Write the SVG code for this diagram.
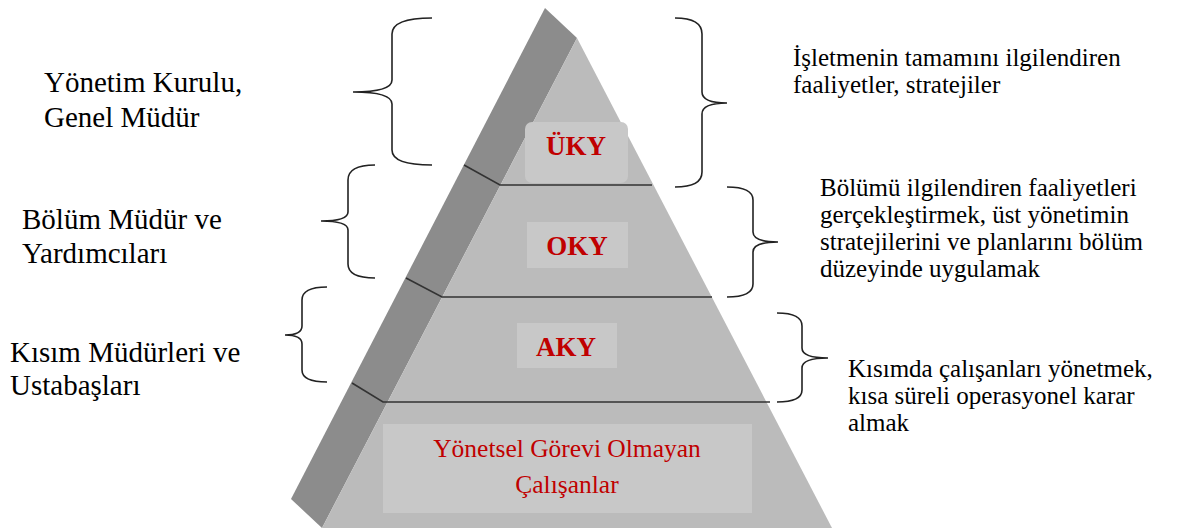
<svg xmlns="http://www.w3.org/2000/svg" width="1189" height="528" viewBox="0 0 1189 528">
<defs>
<style>
.brace{fill:none;stroke:#222;stroke-width:1.6}
.sep{fill:none;stroke:#333;stroke-width:1.6}
.box{fill:#c8c8c8}
.serif{font-family:'Liberation Serif','Times New Roman',serif}
</style>
</defs>
<rect width="1189" height="528" fill="#fff"/>
<g id="pyramid">
<polygon points="545,8 577,38 322,528 291,499" fill="#8c8c8c"/>
<polygon points="577,38 832,528 322,528" fill="#bbbbbb"/>
</g>
<g class="serif" fill="#c00000" text-anchor="middle">
<g id="level-uky">
<rect class="box" x="525" y="122" width="103" height="61" rx="7"/>
<text x="576" y="155" font-size="27" font-weight="bold">ÜKY</text>
</g>
<g id="level-oky">
<rect class="box" x="527" y="222" width="101" height="46"/>
<text x="577" y="255" font-size="27" font-weight="bold">OKY</text>
</g>
<g id="level-aky">
<rect class="box" x="517" y="323" width="100" height="45"/>
<text x="566" y="356" font-size="27" font-weight="bold">AKY</text>
</g>
<g id="level-employees">
<rect class="box" x="383" y="424" width="369" height="89"/>
<text x="567" y="457" font-size="25.5">Yönetsel Görevi Olmayan</text>
<text x="567" y="493" font-size="25.5">Çalışanlar</text>
</g>
</g>
<g id="connectors">
<path class="sep" d="M464,165 L500,185 L652,185"/>
<path class="sep" d="M406,278 L442,297 L712,297"/>
<path class="sep" d="M352,383 L383,402 L770,402"/>
<path class="brace" d="M432,18 Q392,18 392,34 L392,80 Q392,92 353,92 Q392,92 392,104 L392,150 Q392,165 432,165"/>
<path class="brace" d="M375,165 Q348,165 348,180 L348,212 Q348,221 321,221 Q348,221 348,230 L348,264 Q348,278 375,278"/>
<path class="brace" d="M327,287 Q302,287 302,300 L302,326 Q302,335 285,335 Q302,335 302,344 L302,370 Q302,382 327,382"/>
<path class="brace" d="M675,18 Q702,18 702,34 L702,92 Q702,103 727,103 Q702,103 702,114 L702,172 Q702,187 675,187"/>
<path class="brace" d="M727,187 Q753,187 753,200 L753,232 Q753,242 778,242 Q753,242 753,252 L753,284 Q753,297 727,297"/>
<path class="brace" d="M777,313 Q802,313 802,326 L802,348 Q802,358 828,358 Q802,358 802,368 L802,390 Q802,402 777,402"/>
</g>
<g id="left-labels" class="serif" font-size="29" fill="#000">
<text x="44" y="92">Yönetim Kurulu,</text>
<text x="44" y="127">Genel Müdür</text>
<text x="22" y="229">Bölüm Müdür ve</text>
<text x="22" y="263">Yardımcıları</text>
<text x="10" y="362">Kısım Müdürleri ve</text>
<text x="10" y="395">Ustabaşları</text>
</g>
<g id="right-labels" class="serif" font-size="25" fill="#000">
<text x="793" y="66">İşletmenin tamamını ilgilendiren</text>
<text x="793" y="93">faaliyetler, stratejiler</text>
<text x="820" y="196">Bölümü ilgilendiren faaliyetleri</text>
<text x="820" y="223">gerçekleştirmek, üst yönetimin</text>
<text x="820" y="250">stratejilerini ve planlarını bölüm</text>
<text x="820" y="277">düzeyinde uygulamak</text>
<text x="848" y="377">Kısımda çalışanları yönetmek,</text>
<text x="848" y="404">kısa süreli operasyonel karar</text>
<text x="848" y="431">almak</text>
</g>
</svg>
